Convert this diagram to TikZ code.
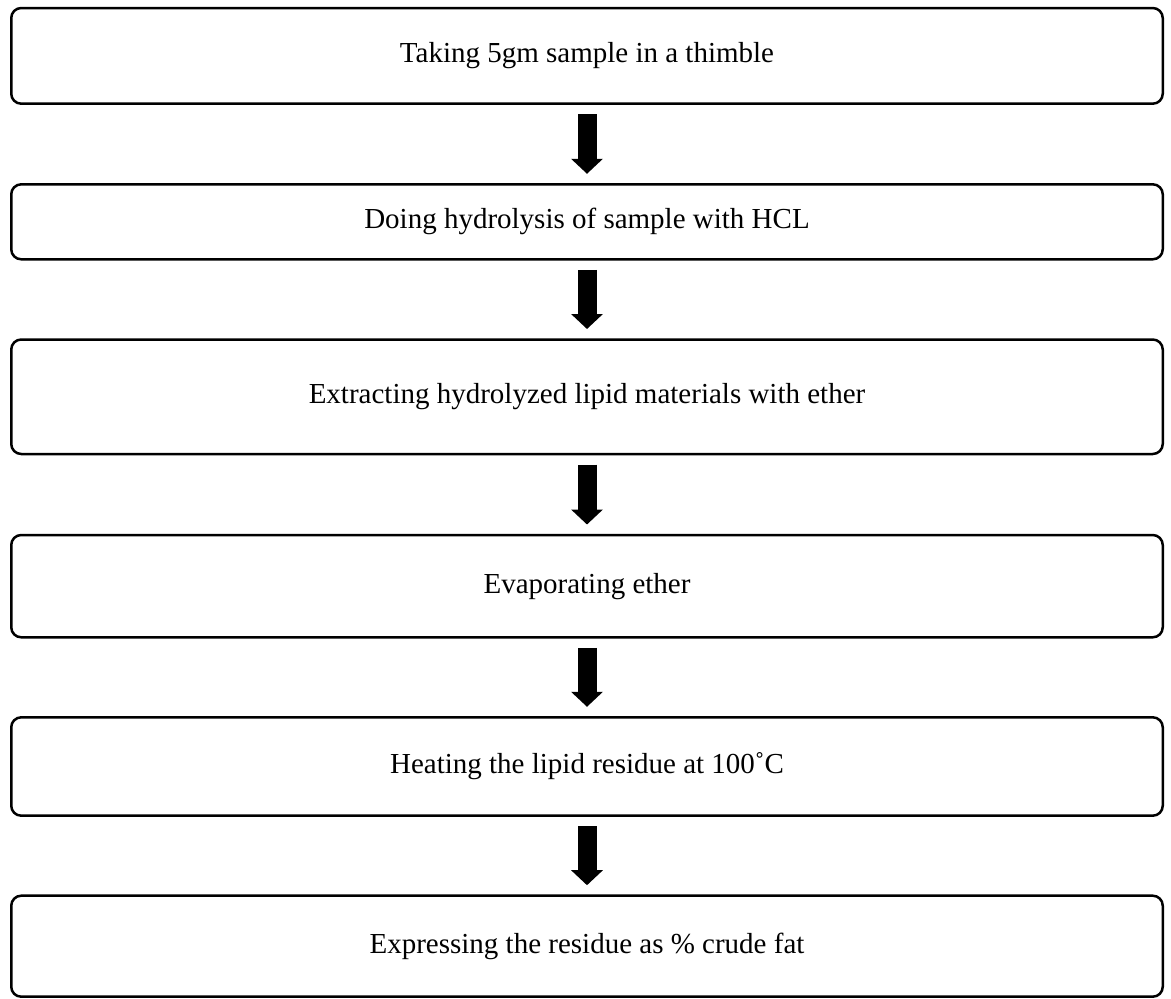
\documentclass[tikz,border=0pt]{standalone}
\usepackage{fontspec}
\setmainfont{Liberation Serif}
\usetikzlibrary{arrows.meta}
\tikzset{
  stepbox/.style={draw=black, line width=2.5pt, rounded corners=10pt, rectangle,
    minimum width=1151.5pt, inner sep=0pt, outer sep=0pt,
    font=\fontsize{29}{34}\selectfont},
  flowarrow/.style={line width=19pt, black,
    -{Triangle[width=31pt,length=15pt]},
    shorten <=10.5pt, shorten >=10.5pt}
}
\begin{document}
\begin{tikzpicture}[x=1pt,y=-1pt]
\useasboundingbox (0,0) rectangle (1171,999);
\node[stepbox, minimum height=95.7pt] (b1) at (587,55.85) {Taking 5gm sample in a thimble};
\node[stepbox, minimum height=75pt] (b2) at (587,221.8) {Doing hydrolysis of sample with HCL};
\node[stepbox, minimum height=114.5pt] (b3) at (587,396.75) {Extracting hydrolyzed lipid materials with ether};
\node[stepbox, minimum height=102.3pt] (b4) at (587,586.15) {Evaporating ether};
\node[stepbox, minimum height=98.4pt] (b5) at (587,766.5) {Heating the lipid residue at 100˚C};
\node[stepbox, minimum height=101pt] (b6) at (587,946.2) {Expressing the residue as \% crude fat};
\draw[flowarrow] (b1.south) -- (b2.north);
\draw[flowarrow] (b2.south) -- (b3.north);
\draw[flowarrow] (b3.south) -- (b4.north);
\draw[flowarrow] (b4.south) -- (b5.north);
\draw[flowarrow] (b5.south) -- (b6.north);
\end{tikzpicture}
\end{document}
